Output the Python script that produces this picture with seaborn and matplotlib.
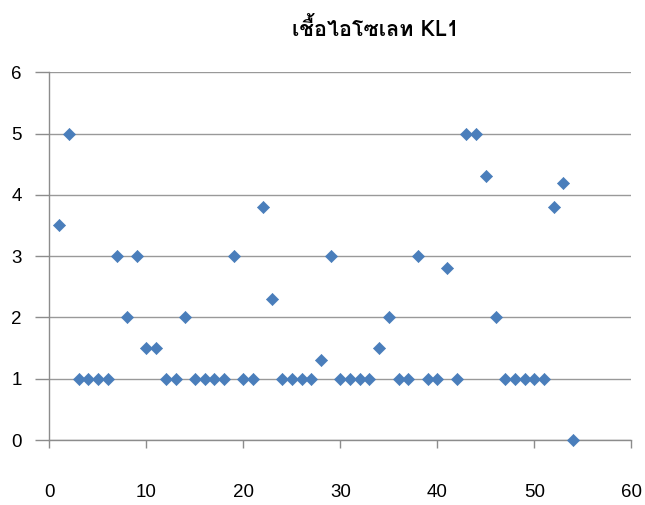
import numpy as np
import pandas as pd
import seaborn as sns
import matplotlib
matplotlib.use("Agg")
import matplotlib.pyplot as plt
from matplotlib import font_manager
from matplotlib.ft2font import FT2Font

# Isolate number and measured score
isolate_no = [1, 2, 3, 4, 5, 6, 7, 8, 9, 10,
              11, 12, 13, 14, 15, 16, 17, 18, 19, 20,
              21, 22, 23, 24, 25, 26, 27, 28, 29, 30,
              31, 32, 33, 34, 35, 36, 37, 38, 39, 40,
              41, 42, 43, 44, 45, 46, 47, 48, 49, 50,
              51, 52, 53, 54]
score = [3.5, 5, 1, 1, 1, 1, 3, 2, 3, 1.5,
         1.5, 1, 1, 2, 1, 1, 1, 1, 3, 1,
         1, 3.8, 2.3, 1, 1, 1, 1, 1.3, 3, 1,
         1, 1, 1, 1.5, 2, 1, 1, 3, 1, 1,
         2.8, 1, 5, 5, 4.3, 2, 1, 1, 1, 1,
         1, 3.8, 4.2, 0]
x_ticks = [0, 10, 20, 30, 40, 50, 60]
y_ticks = [0, 1, 2, 3, 4, 5, 6]
title = "เชื้อไอโซเลท KL1"


def thai_family():
    for fe in font_manager.fontManager.ttflist:
        try:
            if 0x0E40 in FT2Font(fe.fname).get_charmap():
                return fe.name
        except Exception:
            continue
    return None


sns.set_theme(style="white")
thai = thai_family()
families = ([thai] if thai else []) + ["Liberation Sans", "DejaVu Sans"]
plt.rcParams["font.family"] = ["Liberation Sans", "DejaVu Sans"]

df = pd.DataFrame({"isolate": isolate_no, "score": score})

fig = plt.figure(figsize=(6.45, 5.05), dpi=100)
ax = fig.add_axes([0.0767, 0.1287, 0.902, 0.7283])

sns.scatterplot(data=df, x="isolate", y="score", marker="D", s=38,
                color="#4A7EBB", edgecolor="#4A7EBB", linewidth=0.5,
                ax=ax, clip_on=False, zorder=3)

grid_c = "#999999"
ax.set_xlim(0, 60)
ax.set_ylim(0, 6)
ax.set_xticks(x_ticks)
ax.set_yticks(y_ticks)
ax.set_xticklabels([str(v) for v in x_ticks])
ax.set_yticklabels([str(v) for v in y_ticks])
ax.set_xlabel("")
ax.set_ylabel("")
ax.grid(axis="y", color=grid_c, linewidth=1.0)
ax.grid(axis="x", visible=False)
ax.set_axisbelow(True)
for side in ("top", "right"):
    ax.spines[side].set_visible(False)
for side in ("left", "bottom"):
    ax.spines[side].set_color("#8C8C8C")
    ax.spines[side].set_linewidth(1.0)
ax.tick_params(axis="x", direction="out", length=6, width=1, color="#8C8C8C",
               pad=26, labelsize=13.5, labelcolor="black", bottom=True)
ax.tick_params(axis="y", direction="out", length=10, width=1, color="#8C8C8C",
               pad=10, labelsize=13.5, labelcolor="black", left=True)

fig.text(375 / 645, 1 - 29 / 505, title, ha="center", va="center",
         fontsize=15.5, fontweight="bold", color="black", family=families)

fig.savefig("out.png", dpi=100)
